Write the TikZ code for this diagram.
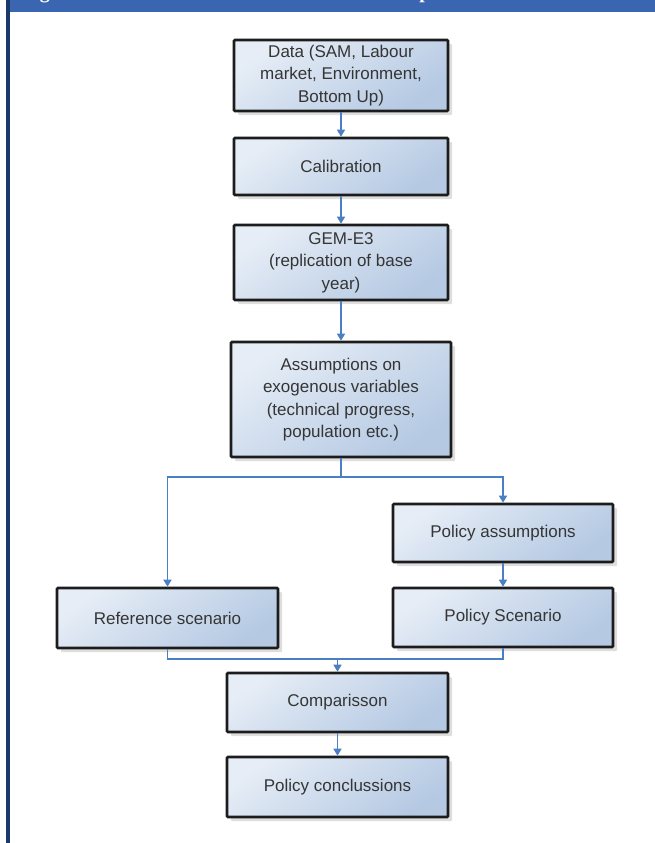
\documentclass[tikz,border=0pt]{standalone}
\usepackage{fontspec}
\setmainfont{Liberation Sans}
\newfontfamily\hdrfont{Liberation Serif}
\usetikzlibrary{arrows.meta,shadows}
\definecolor{boxtop}{HTML}{E6EDF6}
\definecolor{boxbot}{HTML}{B5C9E3}
\definecolor{conncol}{HTML}{4A7FC4}
\definecolor{bordercol}{HTML}{1C1C1C}
\definecolor{txtcol}{HTML}{353535}
\definecolor{bandcol}{HTML}{3A66B1}
\definecolor{darkline}{HTML}{1B3A6B}
\begin{document}
\begin{tikzpicture}[x=1pt,y=-1pt,
  flowbox/.style={draw=bordercol, line width=2.6pt, rounded corners=1pt,
    top color=boxtop, bottom color=boxbot, shading angle=35,
    drop shadow={shadow xshift=4pt, shadow yshift=-4pt, opacity=0.13, fill=black},
    text=txtcol, align=center, inner sep=0pt,
    font=\fontsize{17}{22.5}\selectfont},
  conn/.style={draw=conncol, line width=1.5pt},
  arr/.style={conn, -{Triangle[width=8pt,length=7pt]}}]
\useasboundingbox (0,0) rectangle (655,843);
\fill[white] (0,0) rectangle (655,843);
% header band and left rule
\begin{scope}
\clip (10,0) rectangle (655,12);
\fill[bandcol] (10,0) rectangle (655,12);
\node[anchor=base west, text=white, inner sep=0pt, font=\hdrfont\bfseries\fontsize{20}{24}\selectfont] (hdrA) at (22,-1) {Figure};
\node[anchor=base, text=white, inner sep=0pt, font=\hdrfont\bfseries\fontsize{20}{24}\selectfont] (hdrB) at (425,-1) {p};
\end{scope}
\fill[darkline] (5.5,0) rectangle (10,843);
% boxes
\node[flowbox, minimum width=214pt, minimum height=71pt] (data) at (341,75.5) {Data (SAM, Labour\\market, Environment,\\Bottom Up)};
\node[flowbox, minimum width=214pt, minimum height=57pt] (calib) at (341,166.5) {Calibration};
\node[flowbox, minimum width=214pt, minimum height=75pt] (gem) at (341,262.5) {GEM-E3\\(replication of base\\year)};
\node[flowbox, minimum width=220pt, minimum height=115pt] (assump) at (341,399.5) {Assumptions on\\exogenous variables\\(technical progress,\\population etc.)};
\node[flowbox, minimum width=220pt, minimum height=58pt] (polass) at (503,533) {Policy assumptions};
\node[flowbox, minimum width=221pt, minimum height=60pt] (ref) at (167.5,618) {Reference scenario};
\node[flowbox, minimum width=220pt, minimum height=59pt] (polscen) at (503,617.5) {Policy Scenario};
\node[flowbox, minimum width=221pt, minimum height=59pt] (comp) at (337.5,702.5) {Comparisson};
\node[flowbox, minimum width=221pt, minimum height=60pt] (concl) at (337.5,787) {Policy conclussions};
% connectors
\draw[arr] (data.south) -- (calib.north);
\draw[arr] (calib.south) -- (gem.north);
\draw[arr] (gem.south) -- (assump.north);
\coordinate (split) at (341,477);
\draw[conn] (assump.south) -- (split);
\draw[arr] (split) -| (ref.north);
\draw[arr] (split) -| (polass.north);
\draw[arr] (polass.south) -- (polscen.north);
\coordinate (merge) at (337.5,659);
\draw[conn] (ref.south) |- (merge);
\draw[conn] (polscen.south) |- (merge);
\draw[arr] (merge) -- (comp.north);
\draw[arr] (comp.south) -- (concl.north);
\end{tikzpicture}
\end{document}
